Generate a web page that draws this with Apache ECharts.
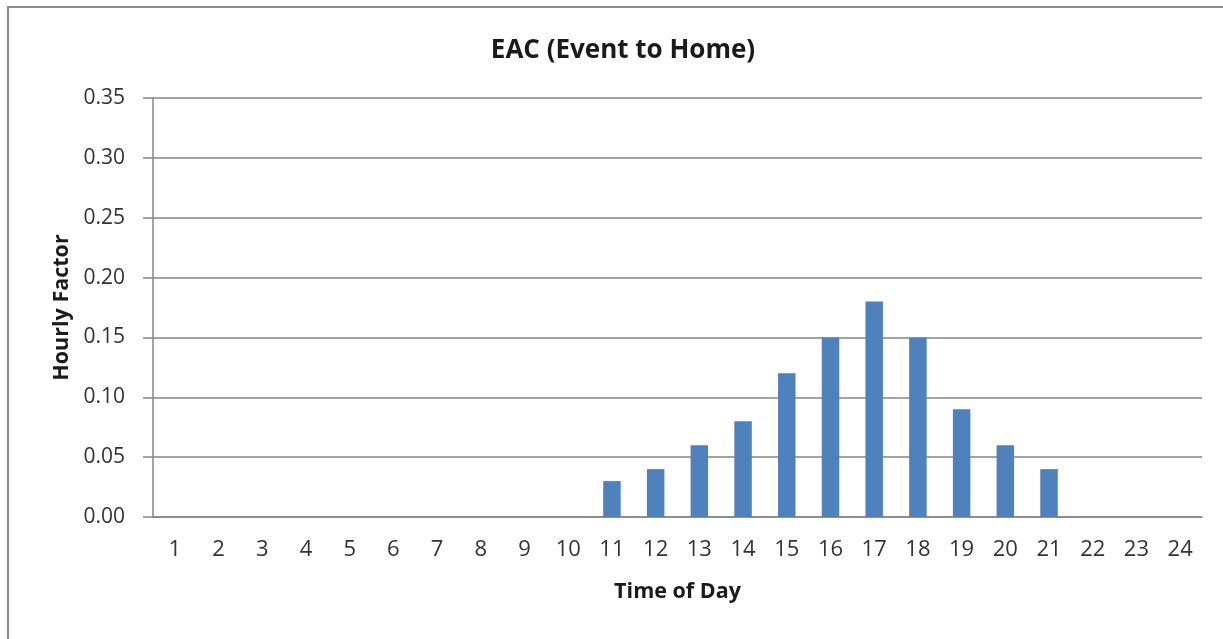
<!DOCTYPE html>
<html>
<head>
<meta charset="utf-8">
<script src="https://cdn.jsdelivr.net/npm/echarts@6/dist/echarts.min.js"></script>
<style>
html,body{margin:0;padding:0;background:#fff;overflow:hidden;}
#chart{position:absolute;left:0;top:0;width:1223px;height:639px;}
#frame{position:absolute;left:7px;top:6px;width:1240px;height:660px;border-left:2px solid #8c8c8c;border-top:2px solid #8c8c8c;pointer-events:none;}
</style>
</head>
<body>
<div id="chart"></div>
<div id="frame"></div>
<script>
var categories = ['1','2','3','4','5','6','7','8','9','10','11','12','13','14','15','16','17','18','19','20','21','22','23','24'];
var hourlyFactor = [0,0,0,0,0,0,0,0,0,0,0.03,0.04,0.06,0.08,0.12,0.15,0.18,0.15,0.09,0.06,0.04,0,0,0];
var titleText = 'EAC (Event to Home)';
var xName = 'Time of Day';
var yName = 'Hourly Factor';

var FONT = 'Open Sans';
var chart = echarts.init(document.getElementById('chart'), null, {renderer:'canvas'});
chart.setOption({
  animation:false,
  backgroundColor:'#fff',
  title:{
    text:titleText,
    left:618, top:33, textAlign:'center',
    textStyle:{fontFamily:FONT, fontSize:26, fontWeight:'bold', color:'#1a1a1a'}
  },
  grid:{left:153, right:21, top:98, bottom:122, containLabel:false},
  xAxis:{
    type:'category',
    data:categories,
    name:xName,
    nameLocation:'middle',
    nameGap:64,
    nameTextStyle:{fontFamily:FONT, fontSize:21.5, fontWeight:'bold', color:'#1a1a1a'},
    axisLine:{show:true, lineStyle:{color:'#868686', width:1.5}},
    axisTick:{show:false},
    axisLabel:{fontFamily:FONT, fontSize:22, color:'#333', margin:22, interval:0},
    splitLine:{show:false}
  },
  yAxis:{
    type:'value',
    min:0, max:0.35, interval:0.05,
    name:yName,
    nameLocation:'middle',
    nameGap:80,
    nameTextStyle:{fontFamily:FONT, fontSize:21.5, fontWeight:'bold', color:'#1a1a1a'},
    axisLine:{show:true, lineStyle:{color:'#868686', width:1.5}},
    axisTick:{show:true, length:10, lineStyle:{color:'#868686', width:1.5}},
    axisLabel:{fontFamily:FONT, fontSize:21, color:'#333', margin:28,
      formatter:function(v){return v.toFixed(2);}},
    splitLine:{show:true, lineStyle:{color:'#868686', width:1.5}}
  },
  series:[{
    type:'bar',
    data:hourlyFactor,
    barWidth:'40%',
    itemStyle:{color:'#4F81BD'}
  }]
});
</script>
</body>
</html>
